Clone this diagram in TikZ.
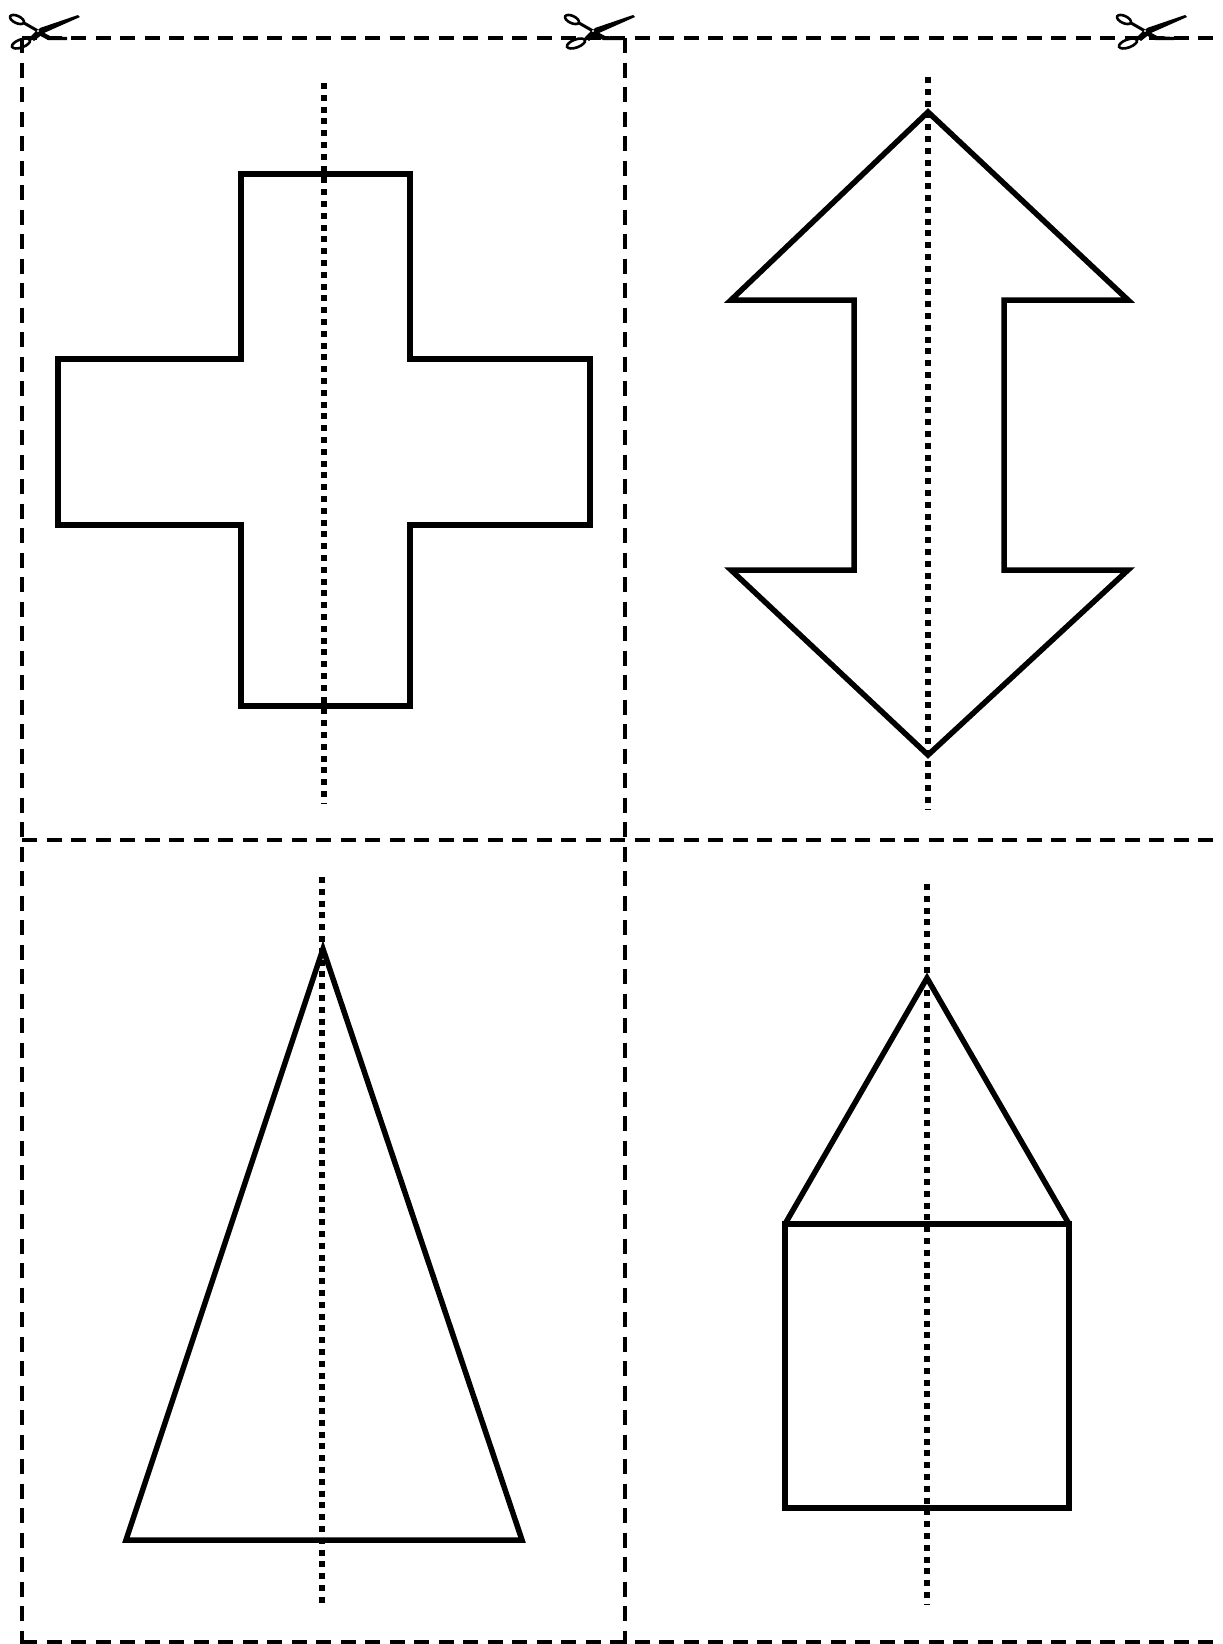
\documentclass[tikz,border=0pt]{standalone}
\begin{document}
\begin{tikzpicture}[x=1pt,y=-1pt,
  cutline/.style={line width=3.4pt,dash pattern=on 15pt off 9.5pt},
  axisline/.style={line width=5.3pt,dash pattern=on 6pt off 5.8pt},
  shapeline/.style={line width=5.5pt,line join=miter},
  scissors/.pic={
    \draw[line width=2.6pt,rotate around={-25:(-21,-11.5)}] (-21,-11.5) ellipse [x radius=7.5, y radius=3.6];
    \draw[line width=2.6pt,rotate around={20:(-17,12.5)}] (-17,12.5) ellipse [x radius=9.5, y radius=4];
    \draw[line width=3pt] (-14,-8) -- (0,0);
    \draw[line width=3pt] (-9,9.5) -- (0,0);
    \fill (-1,-2) -- (12,5) -- (29,6) -- (29,9) -- (10,9) -- (-3,2) -- cycle;
    \fill (-8,7) -- (2,-3) -- (40,-16) -- (42,-14) -- (6,2) -- (-4,10) -- cycle;
    \fill[white] (0,0) circle [radius=1.2];
  }]
\useasboundingbox[fill=white] (0,0) rectangle (1223,1644);
% cut lines
\draw[cutline] (22,38) -- (1223,38);
\draw[cutline] (22,840) -- (1223,840);
\draw[cutline] (22,1642) -- (1223,1642);
\draw[cutline] (22,38) -- (22,1644);
\draw[cutline] (625,38) -- (625,1644);
% scissors
\pic at (38,31) {scissors};
\pic at (593,31) {scissors};
\pic at (1145,31) {scissors};
% cross
\draw[shapeline] (241,174) -- (410,174) -- (410,359) -- (590,359) -- (590,525) -- (410,525) -- (410,706) -- (241,706) -- (241,525) -- (58,525) -- (58,359) -- (241,359) -- cycle;
\draw[axisline] (324,83) -- (324,803);
% double arrow
\draw[shapeline] (928,112) -- (1128,300) -- (1004,300) -- (1004,570) -- (1128,570) -- (928,755) -- (731,570) -- (854,570) -- (854,300) -- (731,300) -- cycle;
\draw[axisline] (928,77) -- (928,809);
% triangle
\draw[axisline] (322,877) -- (322,1607);
\draw[shapeline] (323,949) -- (522,1540) -- (126,1540) -- cycle;
% house
\draw[axisline] (927,884) -- (927,1605);
\draw[shapeline] (785,1224) rectangle (1069,1508);
\draw[shapeline] (785,1224) -- (927,978) -- (1069,1224);
\end{tikzpicture}
\end{document}
